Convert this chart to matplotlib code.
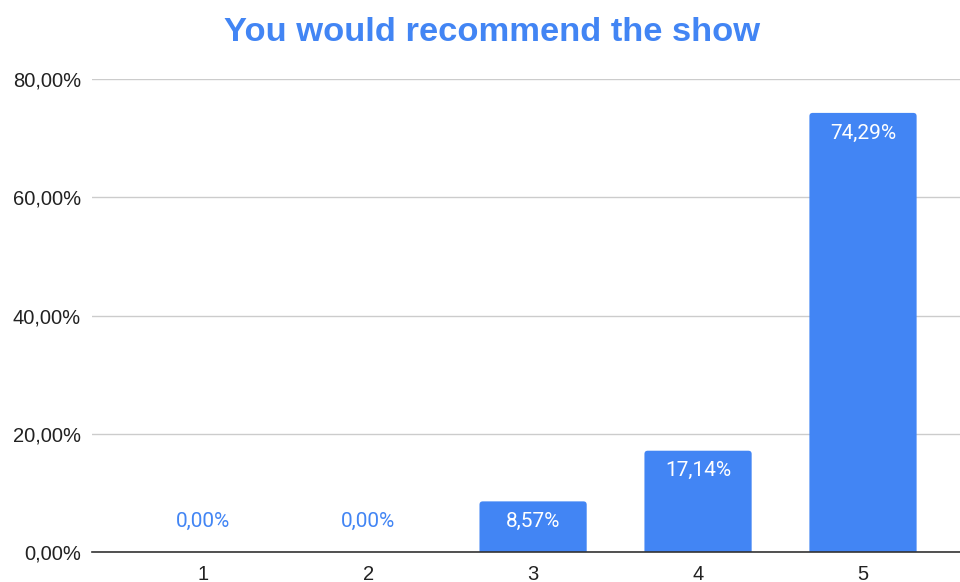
import matplotlib.pyplot as plt
from matplotlib.patches import FancyBboxPatch
from matplotlib.ticker import FuncFormatter

categories = ["1", "2", "3", "4", "5"]
shares = [0.00, 0.00, 8.57, 17.14, 74.29]
y_ticks = [0, 20, 40, 60, 80]

blue = "#4285F4"
bar_w = 0.65

plt.rcParams['font.family'] = ['Liberation Sans', 'DejaVu Sans']

fig = plt.figure(figsize=(9.6, 5.82), dpi=100)
ax = fig.add_axes([0.096, 0.0515, 0.904, 0.8125])

ax.set_xlim(-0.673, 4.588)
ax.set_ylim(0, 80)

# bars with slightly rounded corners; the bottom is pushed below 0 so only the top looks rounded
px_x = ax.get_position().width * fig.get_figwidth() * fig.dpi / (4.588 + 0.673)
px_y = ax.get_position().height * fig.get_figheight() * fig.dpi / 80
aspect = px_x / px_y
x = list(range(len(categories)))
for xi, v in zip(x, shares):
    if v <= 0:
        continue
    ax.add_patch(FancyBboxPatch((xi - bar_w / 2, -2), bar_w, v + 2,
                                boxstyle="round,pad=0,rounding_size=0.02",
                                mutation_aspect=aspect, facecolor=blue,
                                edgecolor='none', zorder=3))

ax.set_yticks(y_ticks)
ax.yaxis.set_major_formatter(FuncFormatter(lambda v, p: f"{v:.2f}%".replace(".", ",")))
ax.set_xticks(x)
ax.set_xticklabels(categories)

ax.grid(axis='y', color='#cccccc', linewidth=1, zorder=0)
for s in ['top', 'right', 'left']:
    ax.spines[s].set_visible(False)
ax.spines['bottom'].set_color('#333333')
ax.spines['bottom'].set_linewidth(1.2)
ax.spines['bottom'].set_zorder(4)
ax.tick_params(axis='both', length=0, labelsize=14.5, colors='#222222')
ax.tick_params(axis='x', pad=9)
ax.tick_params(axis='y', pad=8)

# value labels: white inside the bar, blue above empty bars
for xi, v in zip(x, shares):
    txt = f"{v:.2f}%".replace(".", ",")
    if v > 3:
        ax.text(xi, v - 3.4, txt, ha='center', va='center', color='white',
                fontsize=15, family=['Roboto', 'DejaVu Sans'], zorder=5)
    else:
        ax.text(xi, v + 5.1, txt, ha='center', va='center', color=blue,
                fontsize=15, family=['Roboto', 'DejaVu Sans'], zorder=5)

fig.text(0.5125, 0.945, "You would recommend the show", ha='center', va='center',
         color=blue, fontsize=24.8, fontweight='bold')

fig.savefig("out.png", dpi=100)
